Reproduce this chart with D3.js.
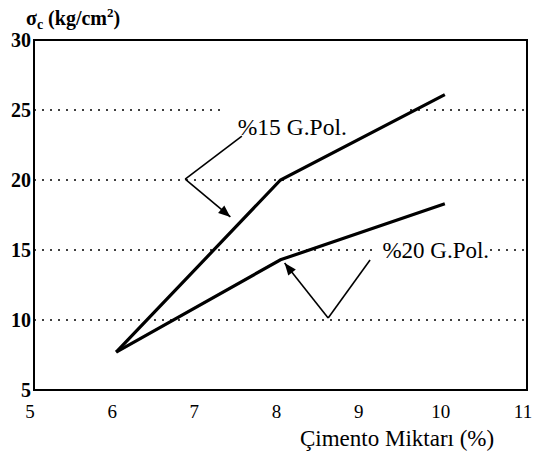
<!DOCTYPE html>
<html><head><meta charset="utf-8">
<script src="https://cdn.jsdelivr.net/npm/d3@7"></script>
<style>
body{margin:0;background:#fff;}
svg text{font-family:'Liberation Serif','Times New Roman',serif;fill:#000;}
</style></head>
<body><svg id="c" width="537" height="453"></svg>
<script>
const xTicks = [5,6,7,8,9,10,11];
const yTicks = [5,10,15,20,25,30];
const gridValues = [10,15,20,25];
const cement = [6,8,10];
const gpol15 = [7.7,20.0,26.1];
const gpol20 = [7.7,14.3,18.3];
const label15 = "%15 G.Pol.";
const label20 = "%20 G.Pol.";
const callout15 = [[7.53,23.14],[6.84,20.07],[7.39,17.36]];
const callout20 = [[9.09,14.29],[8.58,10.14],[8.05,14.07]];
const label15Pos = [7.48,23.2];
const label20Pos = [9.24,14.43];

const svg = d3.select("#c");
const FONT = "Liberation Serif, Times New Roman, serif";
const L=34,R=527,T=40,B=390;
const x = d3.scaleLinear().domain([5,11]).range([L,R]);
const y = d3.scaleLinear().domain([5,30]).range([B,T]);

svg.append("defs").append("marker").attr("id","ah")
  .attr("viewBox","0 0 10 10").attr("refX",10).attr("refY",5)
  .attr("markerWidth",16).attr("markerHeight",12).attr("markerUnits","userSpaceOnUse")
  .attr("orient","auto")
  .append("path").attr("d","M0,1 L10,5 L0,9 Z").attr("fill","#000");

// grid
svg.append("g").selectAll("line").data(gridValues).join("line")
  .attr("x1",L).attr("x2",R).attr("y1",d=>y(d)).attr("y2",d=>y(d))
  .attr("stroke","#000").attr("stroke-width",1.6).attr("stroke-dasharray","2,6");

const maskG = svg.append("g");

// frame
svg.append("rect").attr("x",L).attr("y",T).attr("width",R-L).attr("height",B-T)
  .attr("fill","none").attr("stroke","#000").attr("stroke-width",2);

// y labels
svg.append("g").selectAll("text").data(yTicks).join("text")
  .attr("font-family",FONT)
  .attr("x",L-3).attr("y",d=>y(d)).attr("dy","0.35em").attr("text-anchor","end")
  .attr("font-weight","bold").attr("font-size",20).text(d=>d);

// x labels
svg.append("g").selectAll("text").data(xTicks).join("text")
  .attr("font-family",FONT)
  .attr("x",d=>x(d)-4).attr("y",418).attr("text-anchor","middle")
  .attr("font-size",19).text(d=>d);

svg.append("text").attr("font-family",FONT).attr("x",300).attr("y",446).attr("font-size",23).text("Çimento Miktarı (%)");

// title
const t = svg.append("text").attr("font-family",FONT).attr("x",26).attr("y",25).attr("font-size",20).attr("font-weight","bold");
t.append("tspan").text("σ");
t.append("tspan").attr("font-size",14).attr("dy",4).text("c");
t.append("tspan").attr("dy",-4).text(" (kg/cm");
t.append("tspan").attr("font-size",13).attr("dy",-8).text("2");
t.append("tspan").attr("dy",8).text(")");

// labels
const t15 = svg.append("text").attr("font-family",FONT).attr("x",x(label15Pos[0])).attr("y",y(label15Pos[1])).attr("font-size",23.5).text(label15);
const t20 = svg.append("text").attr("font-family",FONT).attr("x",x(label20Pos[0])).attr("y",y(label20Pos[1])).attr("font-size",23).text(label20);

// white backgrounds behind labels (hide gridlines, as in the scanned original)
const b15 = t15.node().getBBox();
maskG.append("rect").attr("x",b15.x-13).attr("y",b15.y-12).attr("width",b15.width+13+62).attr("height",b15.height+12).attr("fill","#fff");
const b20 = t20.node().getBBox();
maskG.append("rect").attr("x",b20.x-8).attr("y",b20.y).attr("width",b20.width+8).attr("height",b20.height).attr("fill","#fff");

// series
const line = d3.line().x(d=>x(d[0])).y(d=>y(d[1]));
[gpol15,gpol20].forEach(s=>{
  svg.append("path").datum(cement.map((c,i)=>[c,s[i]])).attr("d",line)
    .attr("fill","none").attr("stroke","#000").attr("stroke-width",3.2).attr("stroke-linejoin","miter");
});

// callouts
[callout15,callout20].forEach(c=>{
  svg.append("path").datum(c.slice(0,2)).attr("d",line).attr("fill","none").attr("stroke","#000").attr("stroke-width",1.6);
  svg.append("path").datum(c.slice(1)).attr("d",line).attr("fill","none").attr("stroke","#000").attr("stroke-width",1.6)
    .attr("marker-end","url(#ah)");
});
</script></body></html>
